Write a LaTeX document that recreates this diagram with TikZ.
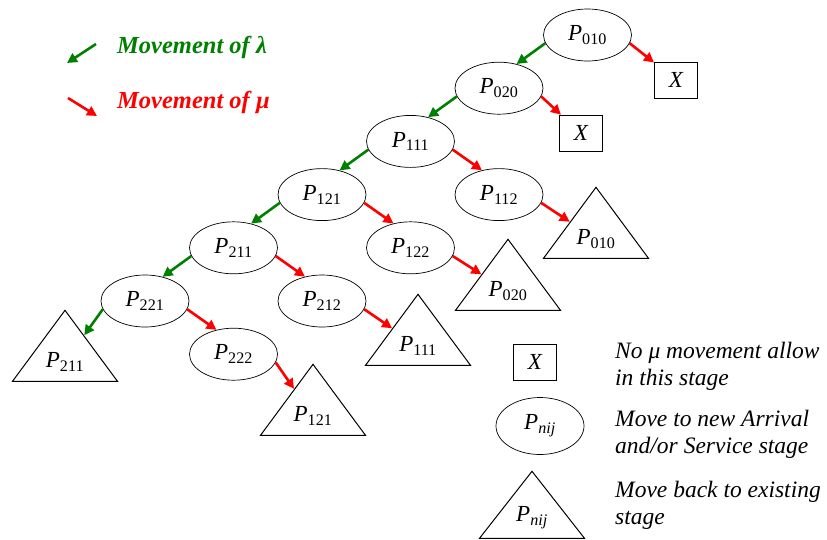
\documentclass[tikz,border=0pt]{standalone}
\usepackage{fontspec}
\setmainfont{Liberation Serif}
\usetikzlibrary{positioning, arrows.meta, shapes.geometric}
\definecolor{lamgreen}{RGB}{0,128,0}
\newcommand{\pst}[1]{\textit{P}\textsubscript{#1}}
\tikzset{
  newstage/.style={ellipse,draw,line width=0.7pt,minimum width=88pt,minimum height=52pt,inner sep=0pt,font=\fontsize{23}{27}\selectfont},
  nomove/.style={rectangle,draw,line width=1pt,minimum width=43pt,minimum height=36pt,inner sep=0pt,font=\fontsize{23}{27}\selectfont\itshape},
  oldstage/.style={isosceles triangle,isosceles triangle stretches,shape border rotate=90,draw,line width=1pt,minimum width=105pt,minimum height=71pt,inner sep=0pt,anchor=apex,font=\fontsize{23}{27}\selectfont},
  lamarrow/.style={-{Triangle[length=10pt,width=10pt]},line width=2.6pt,color=lamgreen},
  muarrow/.style={-{Triangle[length=10pt,width=10pt]},line width=2.6pt,color=red},
  legtext/.style={anchor=west,align=left,inner sep=0pt,font=\fontsize{23.5}{27}\selectfont\itshape}
}

\begin{document}
\begin{tikzpicture}[x=1pt,y=1pt,node distance=53.2pt and 88.5pt,on grid]
  \useasboundingbox (0,0) rectangle (827,-539);
  % movement key
  \coordinate (lamA) at (96,-44);
  \coordinate (lamB) at (67,-63);
  \coordinate (muA) at (68,-98);
  \coordinate (muB) at (97,-116);
  \draw[lamarrow] (lamA) -- (lamB);
  \draw[muarrow] (muA) -- (muB);
  \node[anchor=west,inner sep=0pt,text=lamgreen,font=\fontsize{24.5}{28}\selectfont\bfseries\itshape] (lamkey) at (117,-47) {Movement of λ};
  \node[anchor=west,inner sep=0pt,text=red,font=\fontsize{24.5}{28}\selectfont\bfseries\itshape] (mukey) at (117,-102) {Movement of μ};
  % states
  \node[newstage] (P010) at (587.5,-35) {\pst{010}};
  \node[newstage, below left=of P010] (P020) {\pst{020}};
  \node[newstage, below left=of P020] (P111) {\pst{111}};
  \node[newstage, below left=of P111] (P121) {\pst{121}};
  \node[newstage, below left=of P121] (P211) {\pst{211}};
  \node[newstage, below left=of P211] (P221) {\pst{221}};
  \node[newstage, below right=of P111] (P112) {\pst{112}};
  \node[newstage, below right=of P121] (P122) {\pst{122}};
  \node[newstage, below right=of P211] (P212) {\pst{212}};
  \node[newstage, below right=of P221] (P222) {\pst{222}};
  \node[nomove, below right=45pt and 88.5pt of P010] (X1) {X};
  \node[nomove, below right=45pt and 82pt of P020] (X2) {X};
  \node[oldstage] (T010) at (596,-186) {\pst{010}};
  \node[oldstage] (T020) at (508,-238) {\pst{020}};
  \node[oldstage] (T111) at (418,-293) {\pst{111}};
  \node[oldstage] (T121) at (313,-363) {\pst{121}};
  \node[oldstage] (T211) at (65,-309) {\pst{211}};
  % lambda moves
  \draw[lamarrow] (P010.191) -- (P020.54);
  \draw[lamarrow] (P020.191) -- (P111.54);
  \draw[lamarrow] (P111.191) -- (P121.54);
  \draw[lamarrow] (P121.191) -- (P211.54);
  \draw[lamarrow] (P211.191) -- (P221.54);
  \draw[lamarrow] (P221.191) -- (T211);
  % mu moves
  \draw[muarrow] (P010.349) -- (X1);
  \draw[muarrow] (P020.349) -- (X2);
  \draw[muarrow] (P111.349) -- (P112.125);
  \draw[muarrow] (P121.349) -- (P122.125);
  \draw[muarrow] (P211.349) -- (P212.125);
  \draw[muarrow] (P221.349) -- (P222.125);
  \draw[muarrow] (P112.349) -- (T010);
  \draw[muarrow] (P122.349) -- (T020);
  \draw[muarrow] (P212.349) -- (T111);
  \draw[muarrow] (P222.349) -- (T121);
  % shape key
  \node[nomove] (LX) at (535,-362) {X};
  \node[newstage, minimum height=57pt] (LP) at (540,-426) {\pst{\textit{nij}}};
  \node[oldstage, minimum height=67pt] (LT) at (532,-470) {\pst{\textit{nij}}};
  \node[legtext] (LXtext) at (615,-366) {No μ movement allow\\in this stage};
  \node[legtext] (LPtext) at (615,-434) {Move to new Arrival\\and/or Service stage};
  \node[legtext] (LTtext) at (615,-505) {Move back to existing\\stage};
\end{tikzpicture}
\end{document}
